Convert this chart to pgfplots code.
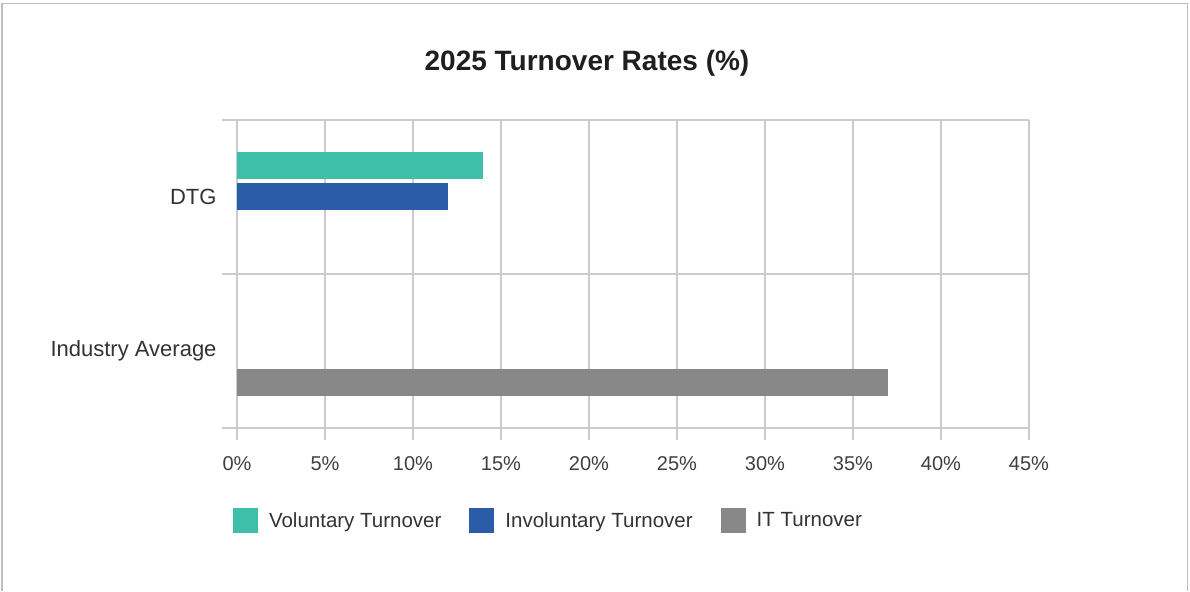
\documentclass[border=0pt]{standalone}
\usepackage{pgfplots}
\pgfplotsset{compat=1.18}
\usepackage{fontspec}
\setmainfont{Liberation Sans}
\definecolor{vol}{RGB}{61,191,170}
\definecolor{invol}{RGB}{42,92,168}
\definecolor{itg}{RGB}{136,136,136}
\definecolor{gridc}{RGB}{204,204,204}
\definecolor{bordc}{RGB}{190,190,190}
\begin{document}
\begin{tikzpicture}
\fill[white] (0bp,0bp) rectangle (1190bp,591bp);
\draw[bordc, line width=1.5bp] (1.75bp,0bp) -- (1.75bp,587.5bp) -- (1187.5bp,587.5bp) -- (1187.5bp,0bp);
\node[anchor=base, font=\bfseries\fontsize{28bp}{31bp}\selectfont, text=black!88] at (587bp,520bp) {2025 Turnover Rates (\%)};
\begin{axis}[
  at={(237bp,163bp)}, anchor=south west,
  width=792bp, height=308bp, scale only axis,
  xmin=0, xmax=45, ymin=-0.5, ymax=1.5,
  xbar, bar width=27bp,
  axis line style={draw=none},
  xtick={0,5,...,45},
  xticklabels={0\%,5\%,10\%,15\%,20\%,25\%,30\%,35\%,40\%,45\%},
  xtick pos=bottom, ytick pos=left,
  xmajorgrids,
  grid style={gridc, line width=1.2bp},
  tick align=outside,
  major tick length=12bp,
  minor tick length=15bp,
  every major x tick/.style={gridc, line width=1.2bp},
  every major y tick/.style={draw=none},
  every minor y tick/.style={gridc, line width=1.2bp},
  ytick={0,1},
  yticklabels={Industry Average,DTG},
  minor ytick={-0.5,0.5,1.5},
  ymajorgrids=false, yminorgrids,
  xticklabel style={font=\fontsize{20bp}{24bp}\selectfont, text=black!75, yshift=-13bp},
  yticklabel style={font=\fontsize{22bp}{26bp}\selectfont, text=black!80, xshift=-5bp},
  legend columns=3,
  legend cell align=left,
  legend image code/.code={\fill[#1, draw=none] (0bp,-12.5bp) rectangle (25bp,12.5bp);},
  legend style={draw=none, fill=none, inner sep=0pt, outer sep=0pt,
    at={(-4/792,-80/308)}, anchor=north west,
    font=\fontsize{20.5bp}{24bp}\selectfont, text=black!80,
    nodes={inner sep=0pt},
    /tikz/every odd column/.append style={column sep=11bp},
    /tikz/every even column/.append style={column sep=28bp}},
]
\addplot[fill=vol, draw=none, bar shift=31bp] coordinates {(14,1)};
\addlegendentry{Voluntary Turnover}
\addplot[fill=invol, draw=none, bar shift=0bp] coordinates {(12,1)};
\addlegendentry{Involuntary Turnover}
\addplot[fill=itg, draw=none, bar shift=-32bp] coordinates {(37,0)};
\addlegendentry{IT Turnover}
\end{axis}
\end{tikzpicture}
\end{document}
